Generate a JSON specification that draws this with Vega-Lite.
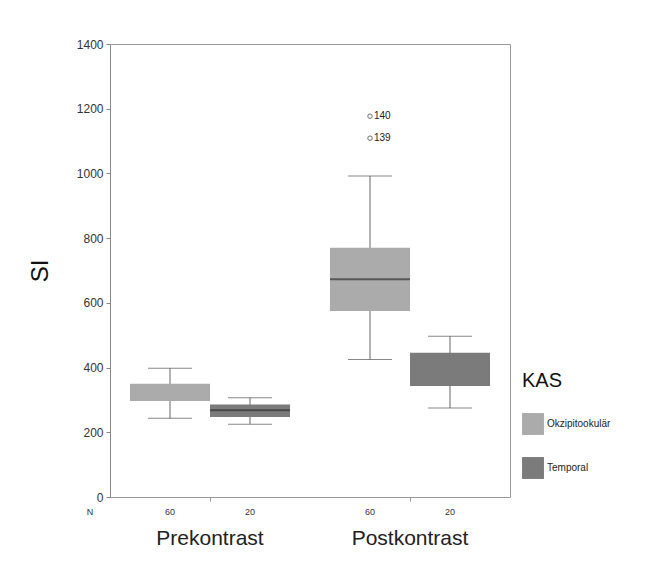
{
  "$schema": "https://vega.github.io/schema/vega-lite/v6.json",
  "width": 400,
  "height": 453,
  "padding": {"left": 28, "top": 38, "right": 5, "bottom": 5},
  "background": "white",
  "config": {
    "font": "Liberation Sans",
    "view": {"stroke": "#999", "strokeWidth": 1}
  },
  "datasets": {
    "boxes": [
      {"Kontrast": "Prekontrast", "KAS": "Okzipitookulär", "lower": 243, "q1": 297, "q3": 350, "upper": 398, "n": "60"},
      {"Kontrast": "Prekontrast", "KAS": "Temporal", "lower": 225, "q1": 247, "q3": 286, "upper": 307, "n": "20"},
      {"Kontrast": "Postkontrast", "KAS": "Okzipitookulär", "lower": 425, "q1": 575, "q3": 770, "upper": 992, "n": "60"},
      {"Kontrast": "Postkontrast", "KAS": "Temporal", "lower": 275, "q1": 343, "q3": 446, "upper": 497, "n": "20"}
    ],
    "medians": [
      {"Kontrast": "Prekontrast", "KAS": "Temporal", "median": 268},
      {"Kontrast": "Postkontrast", "KAS": "Okzipitookulär", "median": 673}
    ],
    "outliers": [
      {"Kontrast": "Postkontrast", "KAS": "Okzipitookulär", "value": 1177, "id": "140"},
      {"Kontrast": "Postkontrast", "KAS": "Okzipitookulär", "value": 1109, "id": "139"}
    ],
    "nlabel": [{"label": "N"}]
  },
  "encoding": {
    "x": {
      "field": "Kontrast", "type": "nominal", "sort": ["Prekontrast", "Postkontrast"],
      "scale": {"domain": ["Prekontrast", "Postkontrast"], "paddingInner": 0, "paddingOuter": 0},
      "axis": {"title": null, "labelAngle": 0, "labelFontSize": 21, "labelColor": "#222", "labelPadding": 26, "domain": false, "ticks": true, "tickSize": 4, "tickColor": "#999"}
    },
    "xOffset": {
      "field": "KAS", "type": "nominal",
      "scale": {"domain": ["Okzipitookulär", "Temporal"], "paddingInner": 0, "paddingOuter": 0.25}
    }
  },
  "layer": [
    {
      "data": {"name": "boxes"},
      "mark": {"type": "rule", "color": "#666", "strokeWidth": 1},
      "encoding": {
        "y": {"field": "lower", "type": "quantitative", "scale": {"domain": [0, 1400], "nice": false},
          "axis": {"values": [0, 200, 400, 600, 800, 1000, 1200, 1400], "format": "d", "grid": false, "domainColor": "#888", "tickColor": "#888", "tickSize": 4, "labelColor": "#333", "labelFontSize": 12, "labelPadding": 3, "title": "SI", "titleFontSize": 24, "titleFontWeight": "normal", "titleColor": "#111", "titlePadding": 24}},
        "y2": {"field": "upper"}
      }
    },
    {
      "data": {"name": "boxes"},
      "mark": {"type": "tick", "color": "#555", "thickness": 1, "size": 44},
      "encoding": {"y": {"field": "lower", "type": "quantitative"}}
    },
    {
      "data": {"name": "boxes"},
      "mark": {"type": "tick", "color": "#555", "thickness": 1, "size": 44},
      "encoding": {"y": {"field": "upper", "type": "quantitative"}}
    },
    {
      "data": {"name": "boxes"},
      "mark": {"type": "bar"},
      "encoding": {
        "y": {"field": "q1", "type": "quantitative"},
        "y2": {"field": "q3"},
        "color": {
          "field": "KAS", "type": "nominal",
          "scale": {"domain": ["Okzipitookulär", "Temporal"], "range": ["#ababab", "#7b7b7b"]},
          "legend": {"title": "KAS", "orient": "none", "legendX": 412, "legendY": 327, "titleFontSize": 20, "titleFontWeight": "normal", "titleColor": "#111", "titlePadding": 22, "labelFontSize": 10, "labelColor": "#222", "symbolType": "square", "symbolSize": 480, "symbolStrokeWidth": 0, "symbolOpacity": 1, "rowPadding": 22, "labelOffset": 3}
        }
      }
    },
    {
      "data": {"name": "medians"},
      "mark": {"type": "tick", "color": "#333", "thickness": 2, "size": 80},
      "encoding": {"y": {"field": "median", "type": "quantitative"}}
    },
    {
      "data": {"name": "boxes"},
      "mark": {"type": "text", "fontSize": 9, "color": "#333", "baseline": "middle"},
      "encoding": {"y": {"datum": -45}, "text": {"field": "n"}}
    },
    {
      "data": {"name": "outliers"},
      "mark": {"type": "point", "shape": "circle", "size": 20, "color": "#333", "strokeWidth": 1},
      "encoding": {"y": {"field": "value", "type": "quantitative"}}
    },
    {
      "data": {"name": "outliers"},
      "mark": {"type": "text", "fontSize": 10, "color": "#222", "align": "left", "dx": 4, "baseline": "middle"},
      "encoding": {"y": {"field": "value", "type": "quantitative"}, "text": {"field": "id"}}
    },
    {
      "data": {"name": "nlabel"},
      "mark": {"type": "text", "fontSize": 9, "color": "#333", "baseline": "middle", "dx": -120},
      "encoding": {"x": {"datum": "Prekontrast"}, "xOffset": null, "y": {"datum": -45}, "text": {"field": "label"}}
    }
  ]
}
